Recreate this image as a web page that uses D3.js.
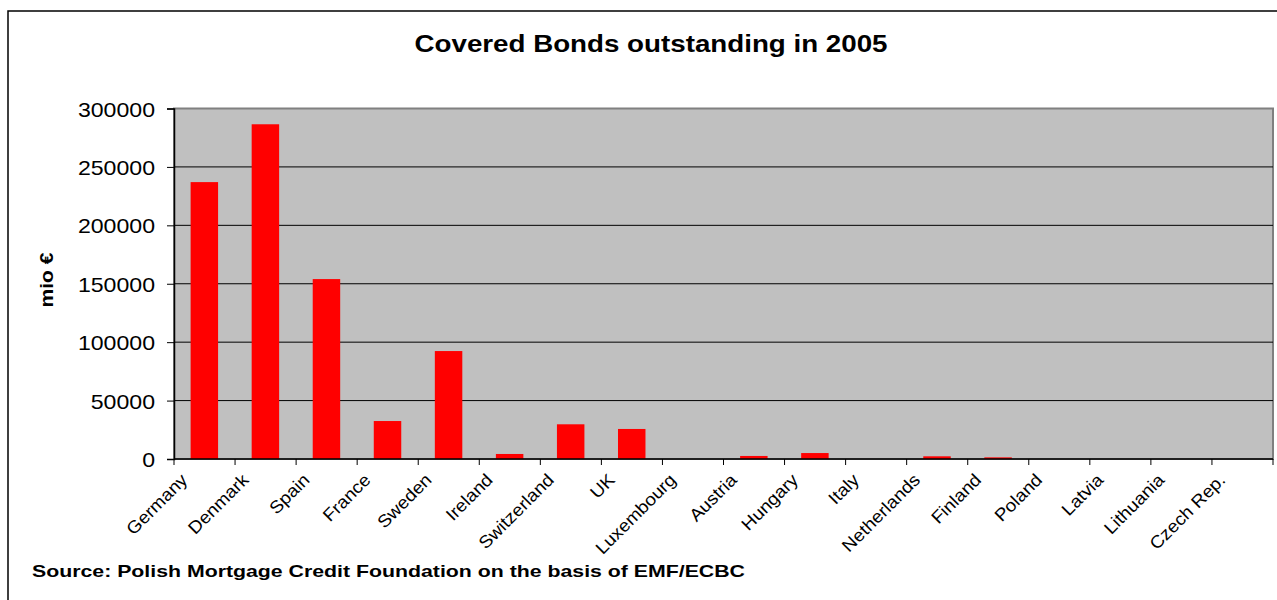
<!DOCTYPE html>
<html>
<head>
<meta charset="utf-8">
<script src="https://cdn.jsdelivr.net/npm/d3@7"></script>
<style>
  html, body { margin: 0; padding: 0; background: #fff; }
  svg { display: block; font-family: "Liberation Sans", Arial, sans-serif; }
</style>
</head>
<body>
<svg id="chart" width="1277" height="600"></svg>
<script>
// Covered bonds outstanding, 2005 (mio €)
const countries = ["Germany", "Denmark", "Spain", "France", "Sweden", "Ireland",
  "Switzerland", "UK", "Luxembourg", "Austria", "Hungary", "Italy",
  "Netherlands", "Finland", "Poland", "Latvia", "Lithuania", "Czech Rep."];
const outstanding = [237000, 286500, 154000, 32500, 92400, 4300,
  29700, 25700, 0, 2600, 5100, 0,
  2300, 1400, 0, 0, 0, 0];
const yTicks = [0, 50000, 100000, 150000, 200000, 250000, 300000];

const titleText = "Covered Bonds outstanding in 2005";
const yAxisTitle = "mio €";
const sourceText = "Source: Polish Mortgage Credit Foundation on the basis of EMF/ECBC";

const svg = d3.select("#chart");
const plot = { left: 174, top: 108.5, right: 1273, bottom: 459 };

const x = d3.scaleBand().domain(countries).range([plot.left, plot.right]).padding(0);
const y = d3.scaleLinear().domain([0, 300000]).range([plot.bottom, plot.top]);

// stretch text horizontally by a factor, using its natural width
function stretch(sel, factor) {
  sel.each(function () {
    const w = this.getComputedTextLength();
    d3.select(this).attr("textLength", w * factor).attr("lengthAdjust", "spacingAndGlyphs");
  });
}

// outer frame
svg.append("rect")
  .attr("x", 8).attr("y", 11).attr("width", 1290).attr("height", 620)
  .attr("fill", "none").attr("stroke", "#000").attr("stroke-width", 1.5);

// plot background
svg.append("rect")
  .attr("x", plot.left).attr("y", plot.top)
  .attr("width", plot.right - plot.left).attr("height", plot.bottom - plot.top)
  .attr("fill", "#c0c0c0").attr("stroke", "#808080").attr("stroke-width", 2);

// gridlines
svg.append("g").selectAll("line")
  .data(yTicks.filter(d => d > 0 && d < 300000))
  .join("line")
  .attr("x1", plot.left).attr("x2", plot.right)
  .attr("y1", d => y(d)).attr("y2", d => y(d))
  .attr("stroke", "#000").attr("stroke-width", 1);

// bars
const bw = x.bandwidth();
svg.append("g").selectAll("rect")
  .data(countries.map((c, i) => ({ c, v: outstanding[i] })).filter(d => d.v > 0))
  .join("rect")
  .attr("x", d => x(d.c) + bw * 0.272)
  .attr("width", bw * 0.45)
  .attr("y", d => y(d.v))
  .attr("height", d => y(0) - y(d.v))
  .attr("fill", "#ff0000");

// y axis
const yAxis = svg.append("g")
  .attr("transform", `translate(${plot.left},0)`)
  .call(d3.axisLeft(y).tickValues(yTicks).tickFormat(d3.format("d")).tickSize(7).tickPadding(12));
yAxis.select(".domain").attr("stroke", "#000").attr("stroke-width", 1.5);
yAxis.selectAll(".tick line").attr("stroke", "#000");
yAxis.selectAll(".tick text")
  .attr("font-size", 21).attr("fill", "#000")
  .attr("font-family", "Liberation Sans, Arial, sans-serif")
  .attr("dy", "0.36em")
  .call(stretch, 1.1);

// x axis line and ticks at category boundaries
const xg = svg.append("g");
xg.append("line")
  .attr("x1", plot.left).attr("x2", plot.right)
  .attr("y1", plot.bottom).attr("y2", plot.bottom)
  .attr("stroke", "#000").attr("stroke-width", 1.5);
const bounds = countries.map(c => x(c)).concat([x.range()[1]]);
xg.selectAll("line.tk")
  .data(bounds)
  .join("line").attr("class", "tk")
  .attr("x1", d => d).attr("x2", d => d)
  .attr("y1", plot.bottom).attr("y2", plot.bottom + 6)
  .attr("stroke", "#000").attr("stroke-width", 1);

xg.selectAll("text")
  .data(countries)
  .join("text")
  .attr("transform", d => `translate(${x(d) + bw / 2 - 16},${plot.bottom + 22}) rotate(-45)`)
  .attr("text-anchor", "end")
  .attr("font-size", 17.5)
  .attr("fill", "#000")
  .text(d => d)
  .call(stretch, 1.08);

// title
svg.append("text")
  .attr("x", 651).attr("y", 52)
  .attr("text-anchor", "middle")
  .attr("font-size", 23).attr("font-weight", "bold")
  .attr("textLength", 473).attr("lengthAdjust", "spacingAndGlyphs")
  .text(titleText);

// y-axis title
svg.append("text")
  .attr("transform", "translate(53,280) rotate(-90)")
  .attr("text-anchor", "middle")
  .attr("font-size", 18).attr("font-weight", "bold")
  .attr("textLength", 55).attr("lengthAdjust", "spacingAndGlyphs")
  .text(yAxisTitle);

// source note
svg.append("text")
  .attr("x", 32).attr("y", 577)
  .attr("font-size", 17).attr("font-weight", "bold")
  .attr("textLength", 713).attr("lengthAdjust", "spacingAndGlyphs")
  .text(sourceText);
</script>
</body>
</html>
